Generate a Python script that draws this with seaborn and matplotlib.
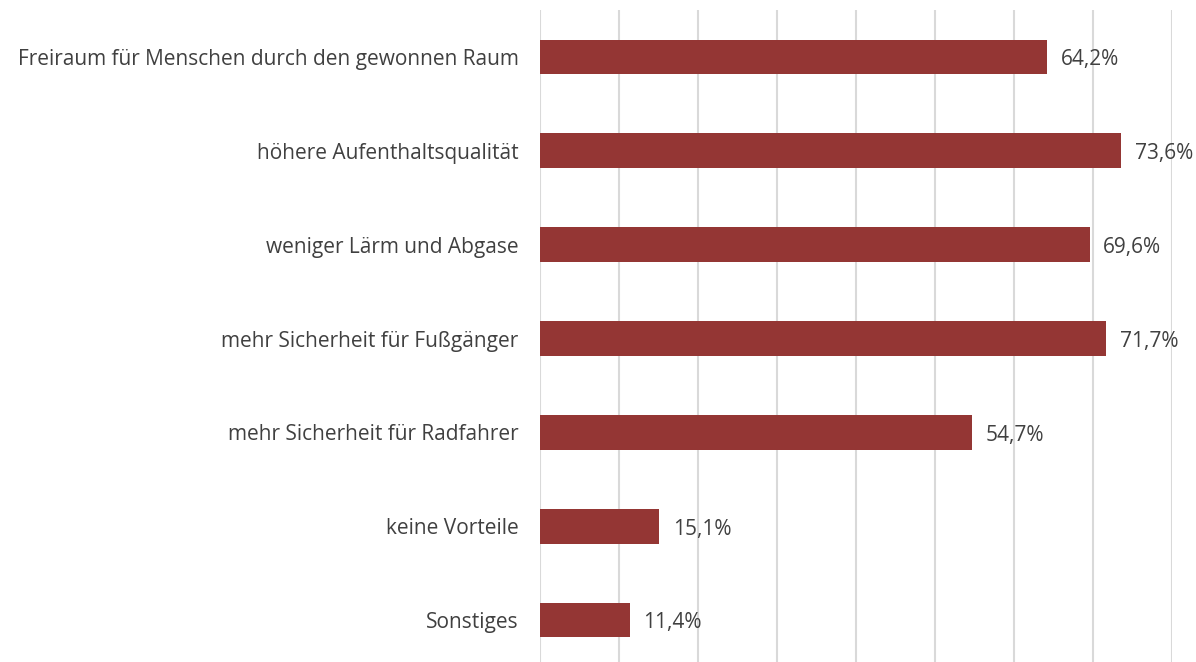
import pandas as pd
import matplotlib.pyplot as plt
import seaborn as sns

# Data
categories = [
    "Freiraum für Menschen durch den gewonnen Raum",
    "höhere Aufenthaltsqualität",
    "weniger Lärm und Abgase",
    "mehr Sicherheit für Fußgänger",
    "mehr Sicherheit für Radfahrer",
    "keine Vorteile",
    "Sonstiges",
]
values = [64.2, 73.6, 69.6, 71.7, 54.7, 15.1, 11.4]
value_labels = ["64,2%", "73,6%", "69,6%", "71,7%", "54,7%", "15,1%", "11,4%"]

df = pd.DataFrame({"category": categories, "value": values})

sns.set_theme(style="white")
plt.rcParams['font.family'] = ['Open Sans', 'DejaVu Sans']

fig = plt.figure(figsize=(11.96, 6.62), dpi=100)
ax = fig.add_axes([540 / 1196, -5 / 662, 632 / 1196, 657 / 662])

sns.barplot(data=df, x="value", y="category", color="#943634",
            width=0.37, saturation=1, linewidth=0, ax=ax)

ax.set_xlim(0, 80)
ax.set_ylim(6.5, -0.5)
ax.set_xticks(range(0, 81, 10))
ax.xaxis.grid(True, color="#d9d9d9", linewidth=1.5)
ax.set_axisbelow(True)
ax.tick_params(axis="x", labelbottom=False, length=0)
ax.tick_params(axis="y", length=0, pad=15.5, labelsize=15, labelcolor="#404040")
ax.set_xlabel("")
ax.set_ylabel("")
for s in ax.spines.values():
    s.set_visible(False)

# value labels
for i, (v, lab) in enumerate(zip(values, value_labels)):
    ax.text(v + 1.7, i + 0.03, lab, va="center", ha="left",
            fontsize=15, color="#404040")

plt.savefig("out.png", dpi=100)
